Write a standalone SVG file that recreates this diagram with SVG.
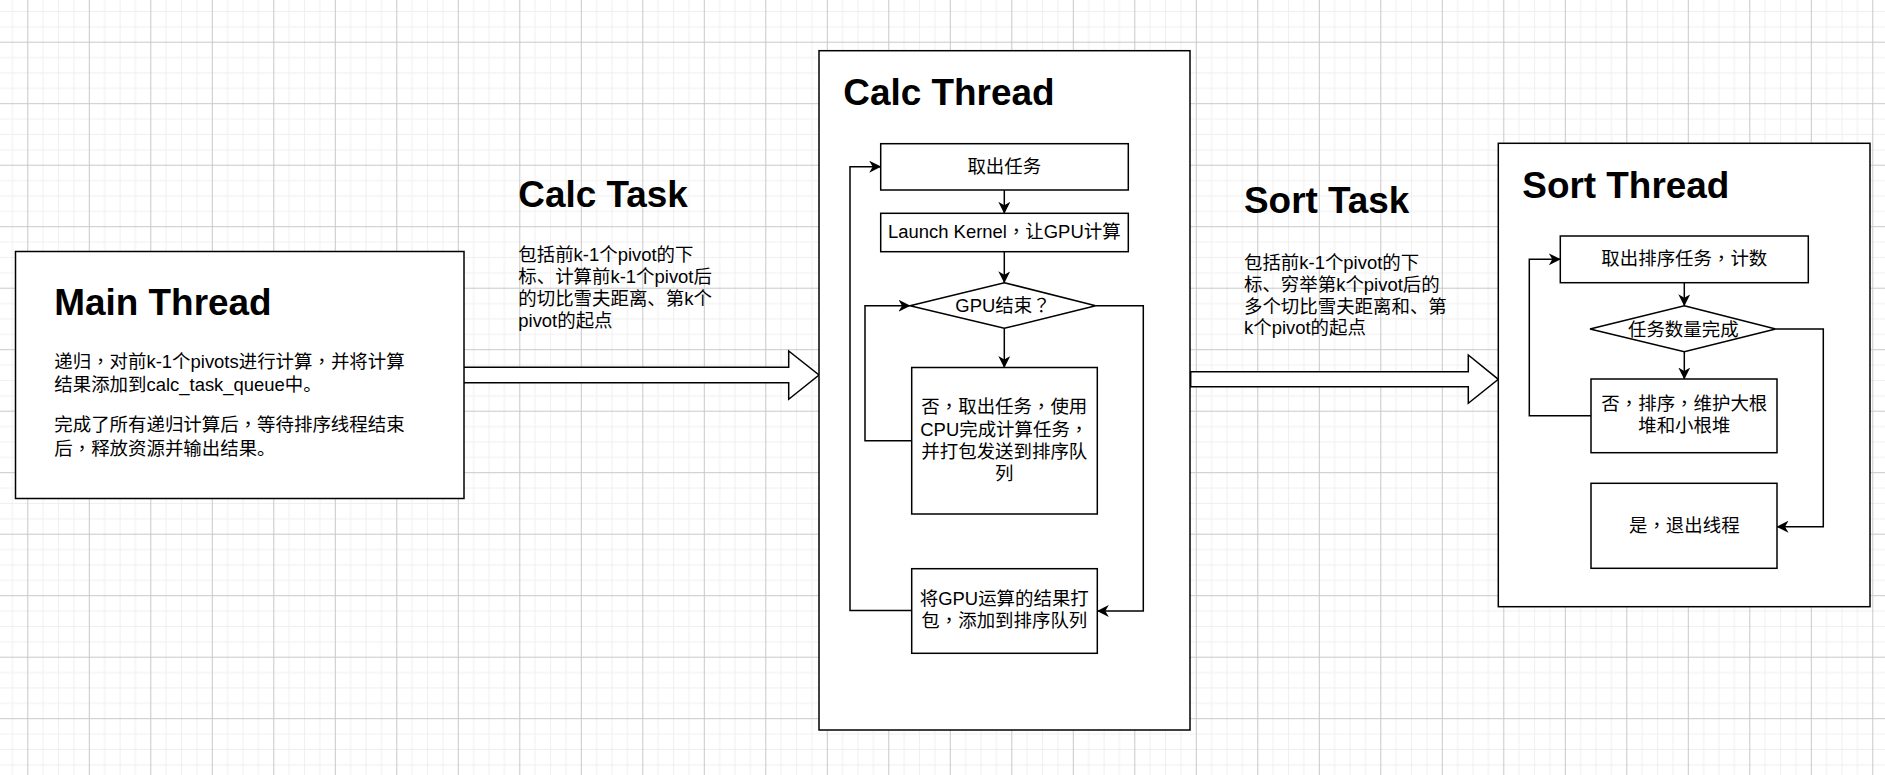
<svg xmlns="http://www.w3.org/2000/svg" width="1885" height="775" viewBox="0 0 1885 775">
<defs>
<pattern id="grid" x="27.3" y="41.7" width="61.5" height="61.5" patternUnits="userSpaceOnUse">
<rect x="15.375" y="0" width="1" height="61.5" fill="#efefef"/>
<rect x="30.75" y="0" width="1" height="61.5" fill="#efefef"/>
<rect x="46.125" y="0" width="1" height="61.5" fill="#efefef"/>
<rect x="0" y="15.375" width="61.5" height="1" fill="#efefef"/>
<rect x="0" y="30.75" width="61.5" height="1" fill="#efefef"/>
<rect x="0" y="46.125" width="61.5" height="1" fill="#efefef"/>
<rect x="0" y="0" width="1" height="61.5" fill="#c8c8c8"/>
<rect x="0" y="0" width="61.5" height="1" fill="#c8c8c8"/>
</pattern>
<marker id="arr" viewBox="0 0 12 12" refX="11.5" refY="6" markerWidth="12" markerHeight="12" markerUnits="userSpaceOnUse" orient="auto">
<path d="M0,0 L12,6 L0,12 L3.5,6 Z" fill="#000"/>
</marker>
<style>
.box{fill:#fff;stroke:#000;stroke-width:1.5}
.line{fill:none;stroke:#000;stroke-width:1.5;marker-end:url(#arr)}
.blk{fill:#fff;stroke:#000;stroke-width:1.5;stroke-linejoin:miter}
.h{font-family:"Liberation Sans","Noto Sans CJK SC",sans-serif;font-weight:bold;font-size:36.9px;fill:#000}
.t{font-family:"Liberation Sans","Noto Sans CJK SC",sans-serif;font-size:18.45px;fill:#000}
.p{font-family:"Noto Sans CJK TC","Noto Sans CJK SC",sans-serif}
.c{text-anchor:middle}
</style>
</defs>
<rect x="0" y="0" width="1885" height="775" fill="#fff"/>
<rect x="0" y="0" width="1885" height="775" fill="url(#grid)"/>

<g id="connectors">
<polygon class="blk" points="463.3,367.3 788.7,367.3 788.7,351 819,375 788.7,399.3 788.7,382.7 463.3,382.7"/>
<polygon class="blk" points="1190.7,371.7 1468.3,371.7 1468.3,355 1498.3,379.3 1468.3,403.3 1468.3,386.7 1190.7,386.7"/>
</g>

<g id="main-thread">
<rect class="box" x="15.5" y="251.5" width="448.5" height="247"/>
<text class="h" x="54.3" y="315">Main Thread</text>
<text class="t" x="54.3" y="368">递归<tspan class="p">，</tspan>对前k-1个pivots进行计算<tspan class="p">，</tspan>并将计算</text>
<text class="t" x="54.3" y="391.3">结果添加到calc_task_queue中。</text>
<text class="t" x="54.3" y="431.3">完成了所有递归计算后<tspan class="p">，</tspan>等待排序线程结束</text>
<text class="t" x="54.3" y="454.6">后<tspan class="p">，</tspan>释放资源并输出结果。</text>
</g>

<g id="calc-task">
<text class="h" x="518.3" y="206.7">Calc Task</text>
<text class="t" x="518.3" y="260.5">包括前k-1个pivot的下</text>
<text class="t" x="518.3" y="282.7">标、计算前k-1个pivot后</text>
<text class="t" x="518.3" y="304.9">的切比雪夫距离、第k个</text>
<text class="t" x="518.3" y="327.1">pivot的起点</text>
</g>

<g id="sort-task">
<text class="h" x="1244" y="213.3">Sort Task</text>
<text class="t" x="1244" y="269.3">包括前k-1个pivot的下</text>
<text class="t" x="1244" y="290.9">标、穷举第k个pivot后的</text>
<text class="t" x="1244" y="312.5">多个切比雪夫距离和、第</text>
<text class="t" x="1244" y="334.1">k个pivot的起点</text>
</g>

<g id="calc-thread">
<rect class="box" x="819" y="50.7" width="371" height="679.3"/>
<text class="h" x="843.3" y="105">Calc Thread</text>
</g>

<g id="sort-thread">
<rect class="box" x="1498.3" y="143.3" width="371.7" height="463.4"/>
<text class="h" x="1522.3" y="198.3">Sort Thread</text>
</g>

<g id="calc-flow-connectors">
<path class="line" d="M1004.3,190 L1004.3,213.3"/>
<path class="line" d="M1004.3,251.7 L1004.3,282.7"/>
<path class="line" d="M1004.3,328.3 L1004.3,367.5"/>
<path class="line" d="M911.7,440.7 L865,440.7 L865,305.7 L910,305.7"/>
<path class="line" d="M1095.7,305.7 L1143.3,305.7 L1143.3,611 L1097.3,611"/>
<path class="line" d="M911.7,610.5 L850,610.5 L850,166.7 L880.7,166.7"/>
</g>

<g id="sort-flow-connectors">
<path class="line" d="M1684.3,282.7 L1684.3,305.7"/>
<path class="line" d="M1684.3,351.7 L1684.3,379"/>
<path class="line" d="M1591,415.7 L1529.3,415.7 L1529.3,259.3 L1560.3,259.3"/>
<path class="line" d="M1775.7,329 L1823.3,329 L1823.3,526.7 L1777,526.7"/>
</g>

<g id="take-task">
<rect class="box" x="880.7" y="143.7" width="247.6" height="46.3"/>
<text class="t c" x="1004.3" y="173.2">取出任务</text>
</g>
<g id="launch-kernel">
<rect class="box" x="880.7" y="213.3" width="247.6" height="38.4"/>
<text class="t c" x="1004.3" y="238.2">Launch Kernel<tspan class="p">，</tspan>让GPU计算</text>
</g>
<g id="gpu-done">
<polygon class="box" points="1004.3,282.7 1095.7,305.7 1004.3,328.3 910,305.7"/>
<text class="t c" x="1003" y="312.2">GPU结束<tspan class="p">？</tspan></text>
</g>
<g id="cpu-task">
<rect class="box" x="911.7" y="367.5" width="185.6" height="146.5"/>
<text class="t c" x="1004.3" y="413.2">否<tspan class="p">，</tspan>取出任务<tspan class="p">，</tspan>使用</text>
<text class="t c" x="1004.3" y="435.6">CPU完成计算任务<tspan class="p">，</tspan></text>
<text class="t c" x="1004.3" y="458">并打包发送到排序队</text>
<text class="t c" x="1004.3" y="480.4">列</text>
</g>
<g id="gpu-pack">
<rect class="box" x="911.7" y="568.7" width="185.6" height="84.6"/>
<text class="t c" x="1004.3" y="604.8">将GPU运算的结果打</text>
<text class="t c" x="1004.3" y="627.2">包<tspan class="p">，</tspan>添加到排序队列</text>
</g>

<g id="take-sort-task">
<rect class="box" x="1560.3" y="236" width="248" height="46.7"/>
<text class="t c" x="1684.3" y="264.8">取出排序任务<tspan class="p">，</tspan>计数</text>
</g>
<g id="count-done">
<polygon class="box" points="1684.3,305.7 1775.7,329 1684.3,351.7 1590,329"/>
<text class="t c" x="1683.3" y="335.5">任务数量完成</text>
</g>
<g id="sort-heap">
<rect class="box" x="1591" y="379" width="186" height="73.7"/>
<text class="t c" x="1684.3" y="409.8">否<tspan class="p">，</tspan>排序<tspan class="p">，</tspan>维护大根</text>
<text class="t c" x="1684.3" y="431.5">堆和小根堆</text>
</g>
<g id="exit-thread">
<rect class="box" x="1591" y="483.3" width="186" height="85"/>
<text class="t c" x="1684.3" y="531.5">是<tspan class="p">，</tspan>退出线程</text>
</g>
</svg>
